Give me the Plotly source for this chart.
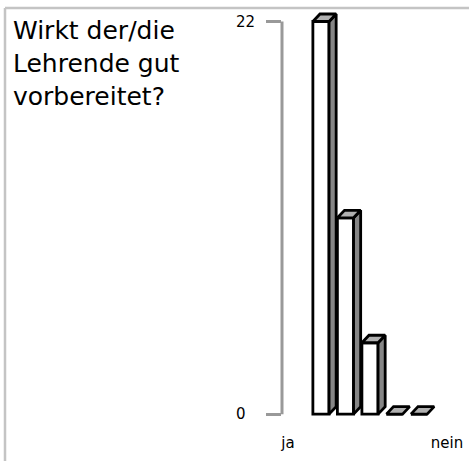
import plotly.graph_objects as go

# answer counts from "ja" (left) to "nein" (right)
positions = [0, 1, 2, 3, 4]
counts = [22, 11, 4, 0, 0]
y_ticks = [0, 22]
y_tick_text = ["0\u2007", "22"]
scale_labels = ["ja", "nein"]
scale_label_pos = [-1.35, 5.14]
title_lines = ["Wirkt der/die", "Lehrende gut", "vorbereitet?"]

W, H = 469, 461
M_L, M_R, M_T, M_B = 282, 0, 4, 29
FONT = "DejaVu Sans, Verdana, sans-serif"

BAR_W = 0.66
DX, DY = 0.29, 0.42  # pseudo 3D depth in data units
EDGE = dict(color="black", width=2.8)


def px_x(px):
    return (px - M_L) / (W - M_L - M_R)


def px_y(py):
    return 1 - (py - M_T) / (H - M_T - M_B)


fig = go.Figure()

fig.add_trace(go.Bar(
    x=positions, y=counts, width=BAR_W,
    marker=dict(color="white", line=EDGE),
    hoverinfo="skip",
))

# side + top faces of every bar, built from the counts
for x, v in zip(positions, counts):
    xl, xr = x - BAR_W / 2, x + BAR_W / 2
    if v > 0:
        fig.add_trace(go.Scatter(
            x=[xr, xr + DX, xr + DX, xr, xr],
            y=[0, DY, v + DY, v, 0],
            mode="lines", fill="toself", fillcolor="#868686",
            line=EDGE, hoverinfo="skip",
        ))
    fig.add_trace(go.Scatter(
        x=[xl, xl + DX, xr + DX, xr, xl],
        y=[v, v + DY, v + DY, v, v],
        mode="lines", fill="toself", fillcolor="#b0b0b0",
        line=EDGE, hoverinfo="skip",
    ))

# y axis bracket
fig.add_shape(type="line", xref="paper", yref="y", x0=0, x1=0, y0=0, y1=22,
              line=dict(color="#999999", width=3))

# frame
fig.add_shape(type="line", xref="paper", yref="paper", x0=px_x(5), x1=px_x(469),
              y0=px_y(8), y1=px_y(8), line=dict(color="#c4c4c4", width=2.5))
fig.add_shape(type="line", xref="paper", yref="paper", x0=px_x(5), x1=px_x(5),
              y0=px_y(8), y1=px_y(461), line=dict(color="#c4c4c4", width=2.5))

for i, line in enumerate(title_lines):
    fig.add_annotation(text=line, xref="paper", yref="paper", x=px_x(11),
                       y=px_y(31 + i * 32.5), xanchor="left", yanchor="middle",
                       showarrow=False, font=dict(family=FONT, size=25, color="black"))

fig.update_layout(
    width=W, height=H,
    margin=dict(l=M_L, r=M_R, t=M_T, b=M_B),
    paper_bgcolor="white", plot_bgcolor="white",
    showlegend=False,
    font=dict(family=FONT, color="black"),
    xaxis=dict(range=[-1.59, 6.04], tickvals=scale_label_pos, ticktext=scale_labels,
               showgrid=False, zeroline=False, showline=False, ticks="",
               tickfont=dict(size=15), fixedrange=True),
    yaxis=dict(range=[-1, 22.98], tickvals=y_ticks, ticktext=y_tick_text,
               showgrid=False, zeroline=False,
               showline=False, ticks="outside", ticklen=15, tickwidth=3,
               tickcolor="#999999", ticklabelstandoff=8,
               tickfont=dict(size=15), fixedrange=True),
)

fig.write_html("out.html", config={"displayModeBar": False},
               post_script="document.body.style.margin='0';")
